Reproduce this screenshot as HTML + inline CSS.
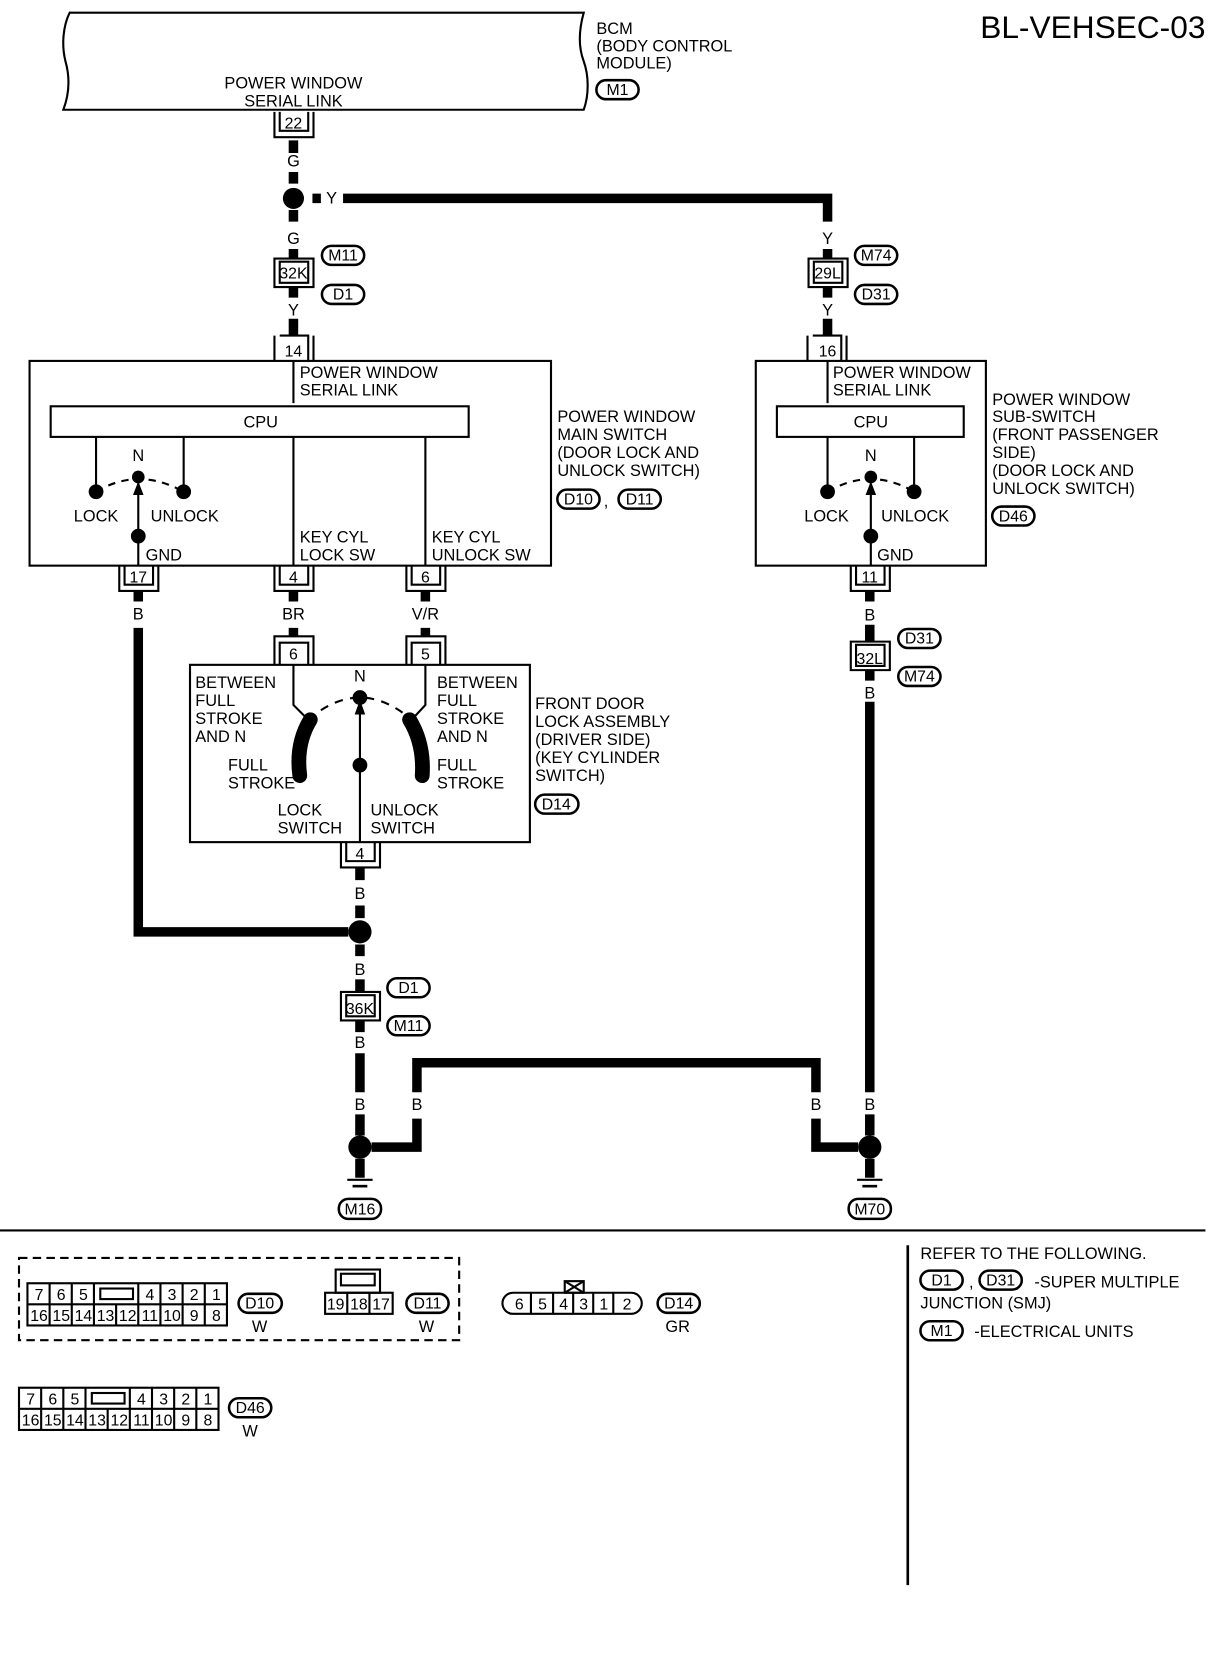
<!DOCTYPE html>
<html><head><meta charset="utf-8"><style>
html,body{margin:0;padding:0;background:#fff}
svg{display:block}
text{font-family:"Liberation Sans",sans-serif;font-size:15.5px;fill:#000}
.c{text-anchor:middle}
.s{font-size:15px}
</style></head><body>
<svg width="1216" height="1660" viewBox="0 0 1152 1573" preserveAspectRatio="none" xmlns="http://www.w3.org/2000/svg">
<defs>
<g id="gnd"><rect x="-4.5" y="0" width="9" height="18" fill="#000"/><line x1="-12" y1="20" x2="12" y2="20" stroke="#000" stroke-width="2"/><line x1="-7" y1="26" x2="7" y2="26" stroke="#000" stroke-width="2.5"/></g>
</defs>
<g fill="none" stroke="#000" stroke-width="2">
<path d="M66,12 H553 C548,30 548,45 553,58 C558,72 558,90 553,104 H60 C66,88 66,72 62,58 C58,42 60,24 66,12 Z"/>
<rect x="28" y="342" width="494" height="194"/>
<rect x="48" y="385" width="396" height="29"/>
<rect x="716" y="342" width="218" height="194"/>
<rect x="736" y="385" width="177" height="29"/>
<rect x="180" y="630" width="322" height="168"/>
<path d="M278,342V382 M91,414V466 M174,414V466 M278,414V536 M403,414V536 M131,508V536 M131,508V458"/>
<path d="M784,342V382 M784,414V466 M866,414V466 M825,508V536 M825,508V458"/>
<path d="M91,466 Q131,442 174,466" stroke-dasharray="7,6"/>
<path d="M784,466 Q825,442 866,466" stroke-dasharray="7,6"/>
<path d="M278,630V668L292,682 M403,630V668L390,682 M341,798V665"/>
<path d="M292,682 Q341,640 390,682" stroke-dasharray="8,7"/>
<line x1="0" y1="1166" x2="1142" y2="1166"/>
<line x1="860" y1="1180" x2="860" y2="1502" stroke-width="2.5"/>
<rect x="18" y="1192" width="417" height="78" stroke-dasharray="8,5"/>
</g>
<polygon points="131,456 126,469 136,469"/>
<polygon points="825,456 820,469 830,469"/>
<polygon points="341,663 336,677 346,677"/>
<g fill="#000">
<circle cx="91" cy="466" r="7"/><circle cx="174" cy="466" r="7"/><circle cx="131" cy="452" r="6"/><circle cx="131" cy="508" r="7"/>
<circle cx="784" cy="466" r="7"/><circle cx="866" cy="466" r="7"/><circle cx="825" cy="452" r="6"/><circle cx="825" cy="508" r="7"/>
<circle cx="341" cy="661" r="7"/><circle cx="341" cy="725" r="7"/>
<circle cx="278" cy="188" r="10"/><circle cx="341" cy="883" r="11"/><circle cx="341" cy="1087" r="11"/><circle cx="824" cy="1087" r="11"/>
</g>
<path d="M294,682 Q280,705 284,735" stroke="#000" stroke-width="14" fill="none" stroke-linecap="round"/>
<path d="M388,682 Q402,705 400,735" stroke="#000" stroke-width="14" fill="none" stroke-linecap="round"/>
<g stroke="#000" stroke-width="9" fill="none">
<path d="M278,133V145 M278,163V174 M278,199V210 M278,236V245 M278,272V282 M278,302V318"/>
<path d="M296,188H304 M325,188H784V210 M784,236V245 M784,272V282 M784,302V318"/>
<path d="M131,560V570 M131,595V883H330"/>
<path d="M278,560V570 M278,595V603 M403,560V570 M403,595V603"/>
<path d="M341,822V834 M341,858V870 M341,895V906 M341,928V940 M341,967V978 M341,998V1035 M341,1056V1076"/>
<path d="M352,1087H395V1060 M395,1035V1007H773V1035 M773,1060V1087H813"/>
<path d="M824,560V570 M824,592V608 M824,635V645 M824,665V1035 M824,1056V1076"/>
</g>
<use href="#gnd" x="341" y="1098"/>
<use href="#gnd" x="824" y="1098"/>
<g fill="none" stroke="#000" stroke-width="2">
<path d="M260,106V130H297V106 M265,106V124H292V106"/>
<path d="M260,318V342 M297,318V342 M265,318H292V342"/>
<path d="M765,318V342 M802,318V342 M770,318H797V342"/>
<path d="M260,245V272H297V245Z M265,248V268H292V248Z"/>
<path d="M766,245V272H803V245Z M771,248V268H798V248Z"/>
<path d="M113,536V560H150V536 M118,536V554H145V536"/>
<path d="M260,536V560H297V536 M265,536V554H292V536"/>
<path d="M385,536V560H422V536 M390,536V554H417V536"/>
<path d="M806,536V560H843V536 M811,536V554H838V536"/>
<path d="M260,630V603H297V630 M265,630V609H292V630"/>
<path d="M385,630V603H422V630 M390,630V609H417V630"/>
<path d="M323,798V822H360V798 M328,798V816H355V798"/>
<path d="M323,940V967H360V940Z M328,943V963H355V943Z"/>
<path d="M806,608V635H843V608Z M811,611V631H838V611Z"/>
</g>
<g fill="none" stroke="#000" stroke-width="2.4">
<rect x="565" y="76" width="40" height="18" rx="9"/>
<rect x="305" y="233" width="40" height="18" rx="9"/>
<rect x="305" y="270" width="40" height="18" rx="9"/>
<rect x="810" y="233" width="40" height="18" rx="9"/>
<rect x="810" y="270" width="40" height="18" rx="9"/>
<rect x="528" y="464" width="40" height="18" rx="9"/>
<rect x="586" y="464" width="40" height="18" rx="9"/>
<rect x="940" y="480" width="40" height="18" rx="9"/>
<rect x="507" y="753" width="41" height="18" rx="9"/>
<rect x="851" y="596" width="40" height="18" rx="9"/>
<rect x="851" y="632" width="40" height="18" rx="9"/>
<rect x="367" y="927" width="40" height="18" rx="9"/>
<rect x="367" y="963" width="40" height="18" rx="9"/>
<rect x="321" y="1136" width="40" height="19" rx="9"/>
<rect x="804" y="1136" width="40" height="19" rx="9"/>
<rect x="872" y="1204" width="40" height="18" rx="9"/>
<rect x="928" y="1204" width="40" height="18" rx="9"/>
<rect x="872" y="1252" width="40" height="18" rx="9"/>
<rect x="226" y="1226" width="41" height="18" rx="9"/>
<rect x="385" y="1226" width="40" height="18" rx="9"/>
<rect x="623" y="1226" width="40" height="18" rx="9"/>
<rect x="217" y="1325" width="40" height="18" rx="9"/>
</g>
<text x="1142" y="36" style="font-size:30px;text-anchor:end">BL-VEHSEC-03</text>
<text class="c" x="278" y="84">POWER WINDOW</text><text class="c" x="278" y="101">SERIAL LINK</text>
<text x="565" y="32">BCM</text><text x="565" y="49">(BODY CONTROL</text><text x="565" y="65"> MODULE)</text>
<g>
<text class="c s" x="585" y="90">M1</text>
<text class="c s" x="278" y="122">22</text>
<text class="c s" x="325" y="247">M11</text><text class="c s" x="325" y="284">D1</text>
<text class="c s" x="278" y="264">32K</text>
<text class="c s" x="830" y="247">M74</text><text class="c s" x="830" y="284">D31</text>
<text class="c s" x="784" y="264">29L</text>
<text class="c s" x="278" y="338">14</text><text class="c s" x="784" y="338">16</text>
<text class="c s" x="131" y="552">17</text><text class="c s" x="278" y="552">4</text><text class="c s" x="403" y="552">6</text><text class="c s" x="824" y="552">11</text>
<text class="c s" x="278" y="625">6</text><text class="c s" x="403" y="625">5</text><text class="c s" x="341" y="814">4</text>
<text class="c s" x="341" y="961">36K</text><text class="c s" x="824" y="629">32L</text>
<text class="c s" x="548" y="478">D10</text><text class="c s" x="606" y="478">D11</text><text x="572" y="480">,</text>
<text class="c s" x="960" y="494">D46</text><text class="c s" x="527" y="767">D14</text>
<text class="c s" x="871" y="610">D31</text><text class="c s" x="871" y="646">M74</text>
<text class="c s" x="387" y="941">D1</text><text class="c s" x="387" y="977">M11</text>
<text class="c s" x="341" y="1151">M16</text><text class="c s" x="824" y="1151">M70</text>
</g>
<text class="c" x="278" y="158">G</text><text class="c" x="278" y="231">G</text><text x="309" y="193">Y</text>
<text class="c" x="278" y="299">Y</text><text class="c" x="784" y="231">Y</text><text class="c" x="784" y="299">Y</text>
<text x="284" y="358">POWER WINDOW</text><text x="284" y="375">SERIAL LINK</text>
<text class="c" x="247" y="405">CPU</text>
<text class="c" x="131" y="437">N</text>
<text class="c" x="91" y="494">LOCK</text><text class="c" x="175" y="494">UNLOCK</text>
<text x="138" y="531">GND</text>
<text x="284" y="514">KEY CYL</text><text x="284" y="531">LOCK SW</text>
<text x="409" y="514">KEY CYL</text><text x="409" y="531">UNLOCK SW</text>
<text x="528" y="400">POWER WINDOW</text><text x="528" y="417">MAIN SWITCH</text><text x="528" y="434">(DOOR LOCK AND</text><text x="528" y="451"> UNLOCK SWITCH)</text>
<text x="789" y="358">POWER WINDOW</text><text x="789" y="375">SERIAL LINK</text>
<text class="c" x="825" y="405">CPU</text>
<text class="c" x="825" y="437">N</text>
<text class="c" x="783" y="494">LOCK</text><text class="c" x="867" y="494">UNLOCK</text>
<text x="831" y="531">GND</text>
<text x="940" y="384">POWER WINDOW</text><text x="940" y="400">SUB-SWITCH</text><text x="940" y="417">(FRONT PASSENGER</text><text x="940" y="434"> SIDE)</text><text x="940" y="451">(DOOR LOCK AND</text><text x="940" y="468"> UNLOCK SWITCH)</text>
<text class="c" x="131" y="587">B</text><text class="c" x="278" y="587">BR</text><text class="c" x="403" y="587">V/R</text>
<text class="c" x="824" y="588">B</text><text class="c" x="824" y="662">B</text>
<text x="185" y="652">BETWEEN</text><text x="185" y="669">FULL</text><text x="185" y="686">STROKE</text><text x="185" y="703">AND N</text>
<text x="414" y="652">BETWEEN</text><text x="414" y="669">FULL</text><text x="414" y="686">STROKE</text><text x="414" y="703">AND N</text>
<text class="c" x="341" y="646">N</text>
<text x="216" y="730">FULL</text><text x="216" y="747">STROKE</text>
<text x="414" y="730">FULL</text><text x="414" y="747">STROKE</text>
<text x="263" y="773">LOCK</text><text x="263" y="790">SWITCH</text>
<text x="351" y="773">UNLOCK</text><text x="351" y="790">SWITCH</text>
<text x="507" y="672">FRONT DOOR</text><text x="507" y="689">LOCK ASSEMBLY</text><text x="507" y="706">(DRIVER SIDE)</text><text x="507" y="723">(KEY CYLINDER</text><text x="507" y="740"> SWITCH)</text>
<text class="c" x="341" y="852">B</text><text class="c" x="341" y="924">B</text><text class="c" x="341" y="993">B</text>
<text class="c" x="341" y="1052">B</text><text class="c" x="395" y="1052">B</text><text class="c" x="773" y="1052">B</text><text class="c" x="824" y="1052">B</text>
<text x="872" y="1193">REFER TO THE FOLLOWING.</text>
<text class="c s" x="892" y="1218">D1</text><text x="918" y="1220">,</text><text class="c s" x="948" y="1218">D31</text>
<text x="980" y="1220">-SUPER MULTIPLE</text>
<text x="872" y="1240">JUNCTION (SMJ)</text>
<text class="c s" x="892" y="1266">M1</text><text x="923" y="1267">-ELECTRICAL UNITS</text>
<g fill="none" stroke="#000" stroke-width="2">
<rect x="26" y="1216" width="189" height="40"/><line x1="26" y1="1236" x2="215" y2="1236"/>
<path d="M47,1216V1256 M68,1216V1256 M89,1216V1256 M110,1236V1256 M131,1216V1256 M152,1216V1256 M173,1216V1256 M194,1216V1256"/>
<rect x="95" y="1221" width="31" height="10"/>
<rect x="18" y="1315" width="189" height="40"/><line x1="18" y1="1335" x2="207" y2="1335"/>
<path d="M39,1315V1355 M60,1315V1355 M81,1315V1355 M102,1335V1355 M123,1315V1355 M144,1315V1355 M165,1315V1355 M186,1315V1355"/>
<rect x="87" y="1320" width="31" height="10"/>
<rect x="308" y="1225" width="64" height="20"/><path d="M329,1225V1245 M350,1225V1245"/>
<rect x="318" y="1203" width="42" height="22"/><rect x="323" y="1207" width="32" height="11"/>
<rect x="476" y="1225" width="132" height="20" rx="10"/>
<path d="M503,1225V1245 M524,1225V1245 M543,1225V1245 M562,1225V1245 M581,1225V1245"/>
<rect x="535" y="1214" width="18" height="11"/><path d="M535,1214L553,1225 M553,1214L535,1225"/>
</g>
<g>
<text class="c s" x="37" y="1232">7</text><text class="c s" x="58" y="1232">6</text><text class="c s" x="79" y="1232">5</text><text class="c s" x="142" y="1232">4</text><text class="c s" x="163" y="1232">3</text><text class="c s" x="184" y="1232">2</text><text class="c s" x="205" y="1232">1</text>
<text class="c s" x="37" y="1252">16</text><text class="c s" x="58" y="1252">15</text><text class="c s" x="79" y="1252">14</text><text class="c s" x="100" y="1252">13</text><text class="c s" x="121" y="1252">12</text><text class="c s" x="142" y="1252">11</text><text class="c s" x="163" y="1252">10</text><text class="c s" x="184" y="1252">9</text><text class="c s" x="205" y="1252">8</text>
<text class="c s" x="29" y="1331">7</text><text class="c s" x="50" y="1331">6</text><text class="c s" x="71" y="1331">5</text><text class="c s" x="134" y="1331">4</text><text class="c s" x="155" y="1331">3</text><text class="c s" x="176" y="1331">2</text><text class="c s" x="197" y="1331">1</text>
<text class="c s" x="29" y="1351">16</text><text class="c s" x="50" y="1351">15</text><text class="c s" x="71" y="1351">14</text><text class="c s" x="92" y="1351">13</text><text class="c s" x="113" y="1351">12</text><text class="c s" x="134" y="1351">11</text><text class="c s" x="155" y="1351">10</text><text class="c s" x="176" y="1351">9</text><text class="c s" x="197" y="1351">8</text>
<text class="c s" x="318" y="1241">19</text><text class="c s" x="340" y="1241">18</text><text class="c s" x="361" y="1241">17</text>
<text class="c s" x="492" y="1241">6</text><text class="c s" x="514" y="1241">5</text><text class="c s" x="534" y="1241">4</text><text class="c s" x="553" y="1241">3</text><text class="c s" x="572" y="1241">1</text><text class="c s" x="594" y="1241">2</text>
<text class="c s" x="246" y="1240">D10</text><text class="c s" x="405" y="1240">D11</text><text class="c s" x="643" y="1240">D14</text><text class="c s" x="237" y="1339">D46</text>
</g>
<text class="c" x="246" y="1262">W</text><text class="c" x="404" y="1262">W</text><text class="c" x="642" y="1262">GR</text><text class="c" x="237" y="1361">W</text>
</svg>
</body></html>
